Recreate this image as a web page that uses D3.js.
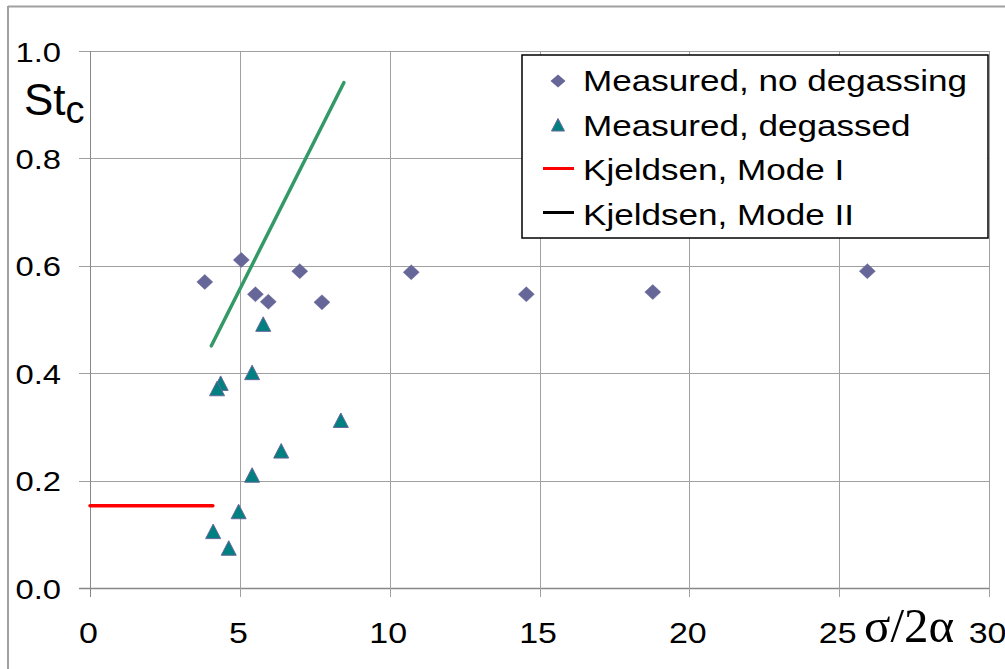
<!DOCTYPE html>
<html>
<head>
<meta charset="utf-8">
<script src="https://cdn.jsdelivr.net/npm/d3@7"></script>
<style>
html, body { margin: 0; padding: 0; background: #fff; }
svg { display: block; }
text { font-family: "Liberation Sans", Arial, sans-serif; fill: #000; }
</style>
</head>
<body>
<svg id="chart" width="1005" height="669"></svg>
<script>
// ---- data ----
const noDegasX = [3.83, 5.05, 5.52, 5.95, 7.0, 7.74, 10.72, 14.56, 18.78, 25.94];
const noDegasY = [0.570, 0.611, 0.547, 0.533, 0.590, 0.532, 0.588, 0.547, 0.551, 0.590];
const degassedX = [5.78, 5.41, 4.36, 4.24, 8.37, 6.38, 5.41, 4.96, 4.11, 4.63];
const degassedY = [0.491, 0.401, 0.381, 0.371, 0.312, 0.255, 0.210, 0.142, 0.105, 0.074];
const modeIX = [0, 4.1];
const modeIY = [0.153, 0.153];
const modeIIX = [4.05, 8.47];
const modeIIY = [0.451, 0.941];
const xTicks = [0, 5, 10, 15, 20, 25, 30];
const yTicks = [0.0, 0.2, 0.4, 0.6, 0.8, 1.0];
const legendLabels = ["Measured, no degassing", "Measured, degassed", "Kjeldsen, Mode I", "Kjeldsen, Mode II"];

const svg = d3.select("#chart");
const x = d3.scaleLinear().domain([0, 30]).range([90, 989]);
const y = d3.scaleLinear().domain([0, 1]).range([588, 51]);

const STRETCH = 1.17;
function stext(parent, tx, ty, str, size, anchor) {
  const g = parent.append("g").attr("transform", `translate(${tx},${ty}) scale(${STRETCH},1)`);
  g.append("text").attr("text-anchor", anchor || "start").attr("font-size", size).text(str);
  return g;
}

// outer frame
svg.append("line").attr("x1", 8).attr("x2", 1005).attr("y1", 6.5).attr("y2", 6.5)
  .attr("stroke", "#a0a0a0").attr("stroke-width", 2);
svg.append("line").attr("x1", 8).attr("x2", 8).attr("y1", 6).attr("y2", 669)
  .attr("stroke", "#a0a0a0").attr("stroke-width", 2);

// grid
const grid = svg.append("g");
grid.selectAll("line.gy").data(yTicks).join("line")
  .attr("x1", x(0) - 11).attr("x2", x(30))
  .attr("y1", d => Math.round(y(d)) + 0.5).attr("y2", d => Math.round(y(d)) + 0.5)
  .attr("stroke", d => d === 0 ? "#888" : "#a0a0a0").attr("stroke-width", d => d === 0 ? 1.5 : 1);
grid.selectAll("line.gx").data(xTicks).join("line")
  .attr("y1", y(1)).attr("y2", y(0) + 9)
  .attr("x1", d => Math.round(x(d)) + 0.5).attr("x2", d => Math.round(x(d)) + 0.5)
  .attr("stroke", d => d === 0 ? "#888" : "#a0a0a0").attr("stroke-width", 1);

// tick labels
yTicks.forEach(t => stext(svg, 61, y(t) + 10.5, d3.format(".1f")(t), 28, "end"));
xTicks.forEach(t => stext(svg, x(t) - 1.5, 643, String(t), 29, "middle"));

// axis titles
const yt = svg.append("text").attr("x", 24).attr("y", 115).attr("font-size", 44);
yt.append("tspan").text("St");
yt.append("tspan").attr("font-size", 38).attr("dy", 8).text("c");
svg.append("text").attr("x", 864).attr("y", 642)
  .style("font-family", "'Liberation Serif', 'Times New Roman', serif")
  .attr("font-size", 49).text("σ/2α");

// lines
const lineGen = d3.line().x(d => x(d[0])).y(d => y(d[1]));
svg.append("path").datum(d3.zip(modeIX, modeIY)).attr("d", lineGen)
  .attr("fill", "none").attr("stroke", "#ff0000").attr("stroke-width", 3.5).attr("stroke-linecap", "round");
svg.append("path").datum(d3.zip(modeIIX, modeIIY)).attr("d", lineGen)
  .attr("fill", "none").attr("stroke", "#339966").attr("stroke-width", 3.5).attr("stroke-linecap", "round");

// markers
const diamond = "M0,-7.5 L8,0 L0,7.5 L-8,0 Z";
const tri = "M0,-7.5 L7.5,7 L-7.5,7 Z";
svg.append("g").selectAll("path").data(d3.zip(noDegasX, noDegasY)).join("path")
  .attr("transform", d => `translate(${x(d[0])},${y(d[1])})`)
  .attr("d", diamond).attr("fill", "#666699").attr("stroke", "#666699").attr("stroke-width", 0.5);
svg.append("g").selectAll("path").data(d3.zip(degassedX, degassedY)).join("path")
  .attr("transform", d => `translate(${x(d[0])},${y(d[1])})`)
  .attr("d", tri).attr("fill", "#008080").attr("stroke", "#666699").attr("stroke-width", 1);

// legend
const lg = svg.append("g");
lg.append("rect").attr("x", 522).attr("y", 55).attr("width", 466).attr("height", 183)
  .attr("fill", "#fff").attr("stroke", "#000").attr("stroke-width", 1.5);
const rowBase = [91, 135.5, 180, 224.5];
legendLabels.forEach((lab, i) => stext(lg, 583, rowBase[i], lab, 30, "start"));
lg.append("path").attr("transform", "translate(558,81)").attr("d", "M0,-6.5 L7.5,0 L0,6.5 L-7.5,0 Z")
  .attr("fill", "#666699");
lg.append("path").attr("transform", "translate(558,125)").attr("d", "M0,-6.5 L6.5,6 L-6.5,6 Z")
  .attr("fill", "#008080").attr("stroke", "#666699").attr("stroke-width", 1);
lg.append("line").attr("x1", 543).attr("x2", 574).attr("y1", 168.5).attr("y2", 168.5)
  .attr("stroke", "#ff0000").attr("stroke-width", 3);
lg.append("line").attr("x1", 543).attr("x2", 574).attr("y1", 212.5).attr("y2", 212.5)
  .attr("stroke", "#000").attr("stroke-width", 3);
</script>
</body>
</html>
